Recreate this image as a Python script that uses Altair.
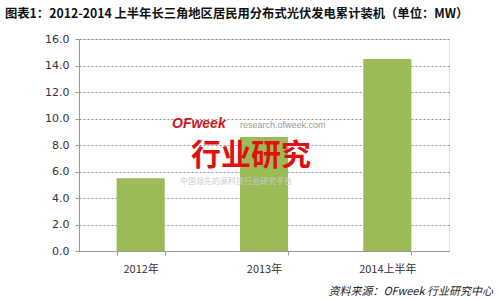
import altair as alt
import pandas as pd

categories = ["2012年", "2013年", "2014上半年"]
values = [5.5, 8.6, 14.5]
y_ticks = [0, 2, 4, 6, 8, 10, 12, 14, 16]

title_text = "图表1：2012-2014 上半年长三角地区居民用分布式光伏发电累计装机（单位：MW）"
source_text = "资料来源：OFweek 行业研究中心"

df = pd.DataFrame({"cat": categories, "val": values})

W, H = 370, 212

bars = alt.Chart(df).mark_bar(color="#9BBB59").encode(
    x=alt.X("cat:N", sort=categories, title=None,
            scale=alt.Scale(paddingInner=0.61, paddingOuter=0.305),
            axis=alt.Axis(labelAngle=0, labelFontSize=11, labelColor="#333333",
                          labelFont="Noto Sans CJK SC", labelPadding=8,
                          tickBand="extent", tickSize=4, tickColor="#999999",
                          domainColor="#999999", grid=False)),
    y=alt.Y("val:Q", title=None,
            scale=alt.Scale(domain=[0, 16], nice=False),
            axis=alt.Axis(values=y_ticks, format=".1f", labelFontSize=11,
                          labelColor="#333333", labelFont="DejaVu Sans",
                          labelPadding=6, tickSize=4, tickColor="#999999",
                          domainColor="#999999", grid=True, gridColor="#777777",
                          gridDash=[2, 2], gridWidth=0.8)),
)

def txt(s, x, y, **kw):
    return alt.Chart(pd.DataFrame({"t": [s]})).mark_text(**kw).encode(
        text="t:N", x=alt.value(x), y=alt.value(y))

title = txt(title_text, -74, -25, align="left", baseline="middle", fontSize=12.3,
            fontWeight="bold", font="Noto Sans CJK SC", color="#111111")
source = txt(source_text, 414, 41 + H, align="right", baseline="middle", fontSize=11,
             fontStyle="italic", font="Noto Sans CJK SC", color="#222222")

wm1 = txt("OFweek", 93, 85, align="left", baseline="middle", fontSize=14,
          fontWeight="bold", fontStyle="italic", font="Liberation Sans", color="#D0141C")
wm2 = txt("research.ofweek.com", 161, 86, align="left", baseline="middle", fontSize=9,
          font="Liberation Sans", color="#999999")
wm3 = txt("行业研究", 112, 117, align="left", baseline="middle", fontSize=30,
          fontWeight="bold", font="Noto Sans CJK SC", color="#E01010")
wm4 = txt("中国领先的高科技行业研究平台", 101, 143, align="left", baseline="middle", fontSize=8,
          font="Noto Sans CJK SC", color="#CCCCCC")

chart = alt.layer(bars, wm1, wm2, wm3, wm4, title, source).properties(
    width=W, height=H,
    autosize=alt.AutoSizeParams(type="none"),
    padding={"left": 79, "top": 39, "right": 51, "bottom": 48},
).configure_view(stroke=None).configure(background="white")

chart.save("out.html", embed_options={"renderer": "svg", "actions": False})
